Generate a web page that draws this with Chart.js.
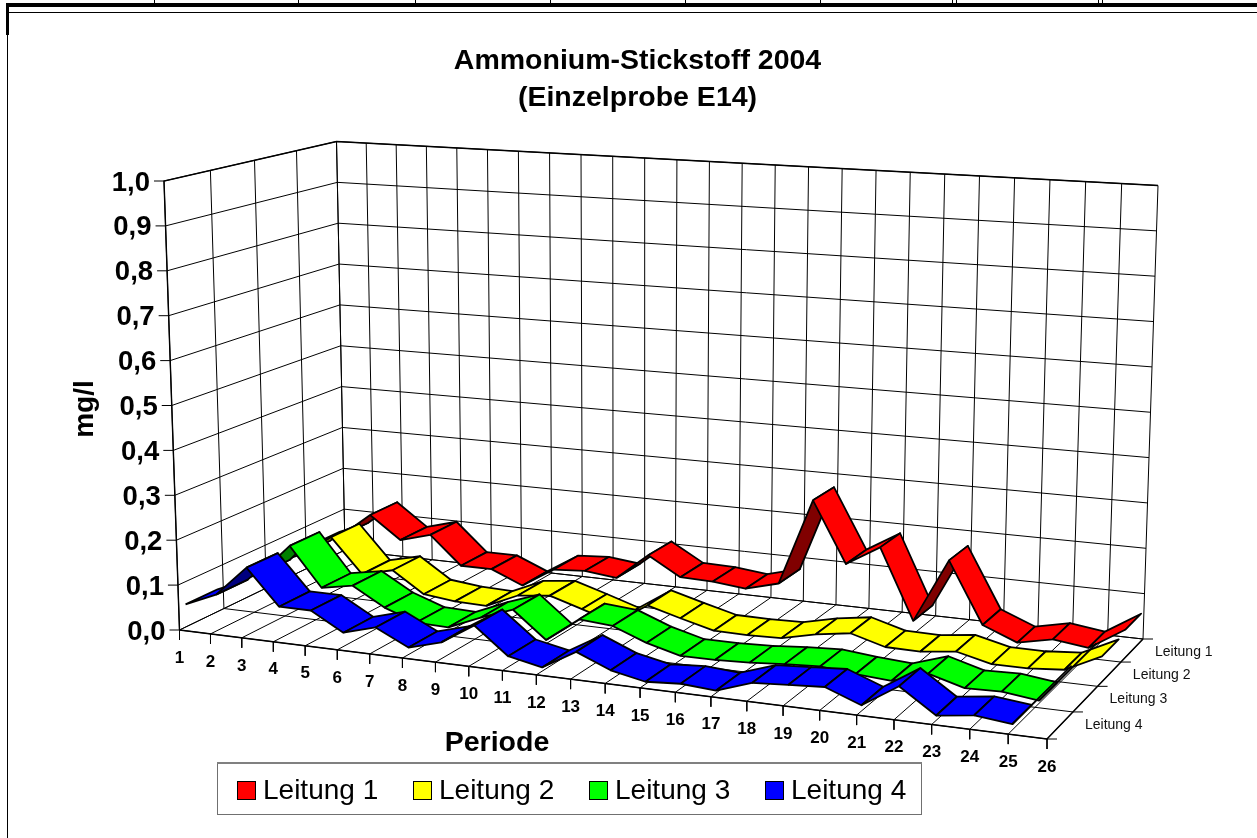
<!DOCTYPE html>
<html>
<head>
<meta charset="utf-8">
<title>Ammonium-Stickstoff 2004</title>
<script src="https://cdn.jsdelivr.net/npm/chart.js@4/dist/chart.umd.min.js"></script>
<style>
    html, body { margin: 0; padding: 0; background: #fff; }
    canvas { display: block; }
</style>
</head>
<body>
<canvas id="chart" width="1257" height="838"></canvas>
<script>
const periods = ["1","2","3","4","5","6","7","8","9","10","11","12","13","14","15","16","17","18","19","20","21","22","23","24","25","26"];
const valueTicks = [0, 0.1, 0.2, 0.3, 0.4, 0.5, 0.6, 0.7, 0.8, 0.9, 1.0];
const seriesNames = ["Leitung 1", "Leitung 2", "Leitung 3", "Leitung 4"];
const seriesColors = ["#ff0000", "#ffff00", "#00ff00", "#0000ff"];
const seriesDark = ["#800000", "#808000", "#008000", "#000080"];

const leitung1 = [0.05, 0.08, 0.137, 0.085, 0.105, 0.04, 0.04, 0.01, 0.055, 0.06, 0.052, 0.112, 0.07, 0.068, 0.06, 0.08, 0.275, 0.14, 0.185, 0.03, 0.172, 0.038, 0.008, 0.024, 0.014, 0.062];
const leitung2 = [0.05, 0.08, 0.128, 0.05, 0.067, 0.02, 0.012, 0.01, 0.042, 0.05, 0.028, 0.005, 0.053, 0.033, 0.014, 0.013, 0.015, 0.032, 0.043, 0.022, 0.021, 0.03, 0.012, 0.012, 0.018, 0.055];
const leitung3 = [0.05, 0.08, 0.152, 0.065, 0.078, 0.037, 0.012, 0.01, 0.04, 0.066, 0.008, 0.062, 0.056, 0.028, 0.009, 0.009, 0.012, 0.018, 0.022, 0.015, 0.01, 0.034, 0.013, 0.015, 0.006, 0.095];
const leitung4 = [0.05, 0.08, 0.148, 0.07, 0.07, 0.03, 0.05, 0.015, 0.035, 0.08, 0.023, 0.008, 0.05, 0.02, 0.005, 0.01, 0.005, 0.03, 0.035, 0.04, 0.012, 0.06, 0.01, 0.02, 0.012, 0.1];
const seriesValues = [leitung1, leitung2, leitung3, leitung4];

// corners of the 3d box on the page
const floorQuad = [[179.5, 630], [1047, 739], [1143, 639], [345, 550]];
const topQuad = [[164, 181], [1060, 235], [1158, 185.5], [336.5, 141.5]];

function squareToQuad(q) {
    const [[x0, y0], [x1, y1], [x2, y2], [x3, y3]] = q;
    const dx1 = x1 - x2, dx2 = x3 - x2, dx3 = x0 - x1 + x2 - x3;
    const dy1 = y1 - y2, dy2 = y3 - y2, dy3 = y0 - y1 + y2 - y3;
    const den = dx1 * dy2 - dx2 * dy1;
    const g = (dx3 * dy2 - dx2 * dy3) / den;
    const h = (dx1 * dy3 - dx3 * dy1) / den;
    const a = x1 - x0 + g * x1, b = x3 - x0 + h * x3;
    const d = y1 - y0 + g * y1, e = y3 - y0 + h * y3;
    return (u, v) => {
        const w = g * u + h * v + 1;
        return [(a * u + b * v + x0) / w, (d * u + e * v + y0) / w];
    };
}
const floorAt = squareToQuad(floorQuad);
const topAt = squareToQuad(topQuad);

// period (1..26), depth (0 front, 1 back), value (mg/l)
function project(period, depth, value) {
    const t = (period - 1) / 25;
    const f = floorAt(t, depth);
    const c = topAt(t, depth);
    return { x: f[0] + (c[0] - f[0]) * value, y: f[1] + (c[1] - f[1]) * value };
}

const datasets = [];

function addLine(points, width) {
    datasets.push({
        data: points,
        showLine: true,
        fill: false,
        borderColor: "#000",
        borderWidth: width || 1,
        pointRadius: 0,
        clip: false
    });
}

// walls and floor
valueTicks.forEach(v => {
    addLine([project(1, 0, v), project(1, 1, v), project(26, 1, v)]);
    const p = project(1, 0, v);
    addLine([{ x: p.x - 10, y: p.y }, p]);
});
periods.forEach((_, i) => {
    const n = i + 1;
    addLine([project(n, 0, 0), project(n, 1, 0), project(n, 1, 1)]);
    const p = project(n, 0, 0);
    addLine([p, { x: p.x, y: p.y + 10 }]);
});
[0, 0.25, 0.5, 0.75, 1].forEach(s => {
    addLine([project(1, s, 1), project(1, s, 0), project(26, s, 0)]);
    const p = project(26, s, 0);
    addLine([p, { x: p.x + 10, y: p.y }]);
});
addLine([project(1, 0, 0), project(26, 0, 0), project(26, 1, 0)], 1.6);
addLine([project(1, 0, 0), project(1, 0, 1), project(1, 1, 1), project(26, 1, 1)], 1.4);

// ribbons, back one first
const ribbonFront = 0.15, ribbonBack = 0.87;
seriesValues.forEach((values, k) => {
    const slot = 3 - k;
    const s0 = (slot + ribbonFront) / 4, s1 = (slot + ribbonBack) / 4;
    for (let i = 0; i < values.length - 1; i++) {
        const a = project(i + 1, s0, values[i]);
        const b = project(i + 2, s0, values[i + 1]);
        const c = project(i + 2, s1, values[i + 1]);
        const d = project(i + 1, s1, values[i]);
        const cross = (b.x - a.x) * (d.y - a.y) - (b.y - a.y) * (d.x - a.x);
        datasets.push({
            data: [a, b, c, d, a],
            showLine: true,
            fill: "shape",
            backgroundColor: cross > 0 ? seriesDark[k] : seriesColors[k],
            borderColor: "#000",
            borderWidth: 1.8,
            borderJoinStyle: "round",
            pointRadius: 0,
            clip: false
        });
    }
});
datasets.forEach((d, i) => { d.order = -i; });

const font = "'Liberation Sans', Arial, sans-serif";

const labelsPlugin = {
    id: "labels3d",
    afterDatasetsDraw(chart) {
        const ctx = chart.ctx;
        ctx.save();

        // bits of the surrounding table
        ctx.fillStyle = "#000";
        ctx.fillRect(6, 3, 1251, 4);
        ctx.fillRect(7, 12, 1250, 1);
        ctx.fillRect(6, 3, 3, 32);
        ctx.fillRect(7, 3, 1, 835);
        [154, 298, 415, 550, 685, 820, 952, 956, 1098, 1102].forEach(x => ctx.fillRect(x, 0, 1, 4));

        ctx.textBaseline = "middle";

        ctx.font = "bold 27.5px " + font;
        ctx.textAlign = "right";
        valueTicks.forEach(v => {
            const p = project(1, 0, v);
            ctx.fillText(v.toFixed(1).replace(".", ","), p.x - 14, p.y + 2);
        });

        ctx.font = "bold 17px " + font;
        ctx.textAlign = "center";
        periods.forEach((label, i) => {
            const p = project(i + 1, 0, 0);
            ctx.fillText(label, p.x, p.y + 28);
        });

        ctx.font = "14px " + font;
        ctx.textAlign = "left";
        ctx.fillStyle = "#111";
        seriesNames.forEach((name, k) => {
            const p = project(26, (3 - k + 1) / 4, 0);
            ctx.fillText(name, p.x + 12, p.y + 13);
        });

        ctx.fillStyle = "#000";
        ctx.font = "bold 28.5px " + font;
        ctx.textAlign = "center";
        ctx.fillText("Periode", 497, 743);

        ctx.save();
        ctx.translate(85, 409);
        ctx.rotate(-Math.PI / 2);
        ctx.font = "bold 28px " + font;
        ctx.fillText("mg/l", 0, 0);
        ctx.restore();

        // legend
        ctx.strokeStyle = "#707070";
        ctx.lineWidth = 1;
        ctx.strokeRect(217.5, 763.5, 704, 51);
        ctx.fillStyle = "#808080";
        ctx.fillRect(217, 762, 705, 2);
        ctx.font = "28px " + font;
        ctx.textAlign = "left";
        seriesNames.forEach((name, k) => {
            const x = 237 + k * 176;
            ctx.fillStyle = seriesColors[k];
            ctx.fillRect(x, 781, 18, 18);
            ctx.strokeStyle = "#000";
            ctx.strokeRect(x + 0.5, 781.5, 18, 18);
            ctx.fillStyle = "#000";
            ctx.fillText(name, x + 26, 791);
        });
        ctx.restore();
    }
};

const titleSize = 28.5, titleLine = 1.29, titleTop = 43, titleBottom = 3;
const areaTop = 2 * titleSize * titleLine + titleTop + titleBottom;

new Chart(document.getElementById("chart"), {
    type: "scatter",
    data: { datasets: datasets },
    plugins: [labelsPlugin],
    options: {
        responsive: false,
        animation: false,
        layout: { padding: { left: 18 } },
        plugins: {
            legend: { display: false },
            tooltip: { enabled: false },
            title: {
                display: true,
                text: ["Ammonium-Stickstoff 2004", "(Einzelprobe E14)"],
                color: "#000",
                font: { family: font, size: titleSize, weight: "bold", lineHeight: titleLine },
                padding: { top: titleTop, bottom: titleBottom }
            }
        },
        scales: {
            x: { type: "linear", display: false, min: 18, max: 1257 },
            y: { type: "linear", display: false, min: areaTop, max: 838, reverse: true }
        }
    }
});
</script>
</body>
</html>
